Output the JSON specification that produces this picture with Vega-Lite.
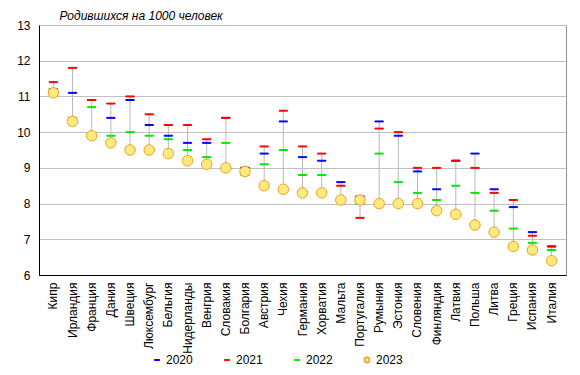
{
  "$schema": "https://vega.github.io/schema/vega-lite/v6.json",
  "autosize": {"type": "none"},
  "width": 527,
  "height": 250,
  "padding": {"left": 39, "top": 25, "right": 14, "bottom": 100},
  "config": {
    "view": {"stroke": "#909090", "strokeWidth": 1},
    "font": "Liberation Sans",
    "axis": {"labelFont": "Liberation Sans", "labelFontSize": 12, "labelColor": "#000000", "domainColor": "#000000", "domainWidth": 1, "gridColor": "#c0c0c0", "gridWidth": 1, "tickSize": 0},
    "legend": {"labelFont": "Liberation Sans", "labelFontSize": 12, "labelColor": "#000000", "symbolSize": 28}
  },
  "data": {"values": [
    {"country": "Кипр", "year": "2020", "value": 11.2},
    {"country": "Ирландия", "year": "2020", "value": 11.1},
    {"country": "Франция", "year": "2020", "value": 10.9},
    {"country": "Дания", "year": "2020", "value": 10.4},
    {"country": "Швеция", "year": "2020", "value": 10.9},
    {"country": "Люксембург", "year": "2020", "value": 10.2},
    {"country": "Бельгия", "year": "2020", "value": 9.9},
    {"country": "Нидерланды", "year": "2020", "value": 9.7},
    {"country": "Венгрия", "year": "2020", "value": 9.7},
    {"country": "Словакия", "year": "2020", "value": 10.4},
    {"country": "Болгария", "year": "2020", "value": 9.0},
    {"country": "Австрия", "year": "2020", "value": 9.4},
    {"country": "Чехия", "year": "2020", "value": 10.3},
    {"country": "Германия", "year": "2020", "value": 9.3},
    {"country": "Хорватия", "year": "2020", "value": 9.2},
    {"country": "Мальта", "year": "2020", "value": 8.6},
    {"country": "Португалия", "year": "2020", "value": 8.2},
    {"country": "Румыния", "year": "2020", "value": 10.3},
    {"country": "Эстония", "year": "2020", "value": 9.9},
    {"country": "Словения", "year": "2020", "value": 8.9},
    {"country": "Финляндия", "year": "2020", "value": 8.4},
    {"country": "Латвия", "year": "2020", "value": 9.2},
    {"country": "Польша", "year": "2020", "value": 9.4},
    {"country": "Литва", "year": "2020", "value": 8.4},
    {"country": "Греция", "year": "2020", "value": 7.9},
    {"country": "Испания", "year": "2020", "value": 7.2},
    {"country": "Италия", "year": "2020", "value": 6.8},

    {"country": "Кипр", "year": "2021", "value": 11.4},
    {"country": "Ирландия", "year": "2021", "value": 11.8},
    {"country": "Франция", "year": "2021", "value": 10.9},
    {"country": "Дания", "year": "2021", "value": 10.8},
    {"country": "Швеция", "year": "2021", "value": 11.0},
    {"country": "Люксембург", "year": "2021", "value": 10.5},
    {"country": "Бельгия", "year": "2021", "value": 10.2},
    {"country": "Нидерланды", "year": "2021", "value": 10.2},
    {"country": "Венгрия", "year": "2021", "value": 9.8},
    {"country": "Словакия", "year": "2021", "value": 10.4},
    {"country": "Болгария", "year": "2021", "value": 9.0},
    {"country": "Австрия", "year": "2021", "value": 9.6},
    {"country": "Чехия", "year": "2021", "value": 10.6},
    {"country": "Германия", "year": "2021", "value": 9.6},
    {"country": "Хорватия", "year": "2021", "value": 9.4},
    {"country": "Мальта", "year": "2021", "value": 8.5},
    {"country": "Португалия", "year": "2021", "value": 7.6},
    {"country": "Румыния", "year": "2021", "value": 10.1},
    {"country": "Эстония", "year": "2021", "value": 10.0},
    {"country": "Словения", "year": "2021", "value": 9.0},
    {"country": "Финляндия", "year": "2021", "value": 9.0},
    {"country": "Латвия", "year": "2021", "value": 9.2},
    {"country": "Польша", "year": "2021", "value": 9.0},
    {"country": "Литва", "year": "2021", "value": 8.3},
    {"country": "Греция", "year": "2021", "value": 8.1},
    {"country": "Испания", "year": "2021", "value": 7.1},
    {"country": "Италия", "year": "2021", "value": 6.8},

    {"country": "Кипр", "year": "2022", "value": 11.2},
    {"country": "Ирландия", "year": "2022", "value": 10.4},
    {"country": "Франция", "year": "2022", "value": 10.7},
    {"country": "Дания", "year": "2022", "value": 9.9},
    {"country": "Швеция", "year": "2022", "value": 10.0},
    {"country": "Люксембург", "year": "2022", "value": 9.9},
    {"country": "Бельгия", "year": "2022", "value": 9.8},
    {"country": "Нидерланды", "year": "2022", "value": 9.5},
    {"country": "Венгрия", "year": "2022", "value": 9.3},
    {"country": "Словакия", "year": "2022", "value": 9.7},
    {"country": "Болгария", "year": "2022", "value": 8.8},
    {"country": "Австрия", "year": "2022", "value": 9.1},
    {"country": "Чехия", "year": "2022", "value": 9.5},
    {"country": "Германия", "year": "2022", "value": 8.8},
    {"country": "Хорватия", "year": "2022", "value": 8.8},
    {"country": "Мальта", "year": "2022", "value": 8.1},
    {"country": "Португалия", "year": "2022", "value": 8.0},
    {"country": "Румыния", "year": "2022", "value": 9.4},
    {"country": "Эстония", "year": "2022", "value": 8.6},
    {"country": "Словения", "year": "2022", "value": 8.3},
    {"country": "Финляндия", "year": "2022", "value": 8.1},
    {"country": "Латвия", "year": "2022", "value": 8.5},
    {"country": "Польша", "year": "2022", "value": 8.3},
    {"country": "Литва", "year": "2022", "value": 7.8},
    {"country": "Греция", "year": "2022", "value": 7.3},
    {"country": "Испания", "year": "2022", "value": 6.9},
    {"country": "Италия", "year": "2022", "value": 6.7},

    {"country": "Кипр", "year": "2023", "value": 11.1},
    {"country": "Ирландия", "year": "2023", "value": 10.3},
    {"country": "Франция", "year": "2023", "value": 9.9},
    {"country": "Дания", "year": "2023", "value": 9.7},
    {"country": "Швеция", "year": "2023", "value": 9.5},
    {"country": "Люксембург", "year": "2023", "value": 9.5},
    {"country": "Бельгия", "year": "2023", "value": 9.4},
    {"country": "Нидерланды", "year": "2023", "value": 9.2},
    {"country": "Венгрия", "year": "2023", "value": 9.1},
    {"country": "Словакия", "year": "2023", "value": 9.0},
    {"country": "Болгария", "year": "2023", "value": 8.9},
    {"country": "Австрия", "year": "2023", "value": 8.5},
    {"country": "Чехия", "year": "2023", "value": 8.4},
    {"country": "Германия", "year": "2023", "value": 8.3},
    {"country": "Хорватия", "year": "2023", "value": 8.3},
    {"country": "Мальта", "year": "2023", "value": 8.1},
    {"country": "Португалия", "year": "2023", "value": 8.1},
    {"country": "Румыния", "year": "2023", "value": 8.0},
    {"country": "Эстония", "year": "2023", "value": 8.0},
    {"country": "Словения", "year": "2023", "value": 8.0},
    {"country": "Финляндия", "year": "2023", "value": 7.8},
    {"country": "Латвия", "year": "2023", "value": 7.7},
    {"country": "Польша", "year": "2023", "value": 7.4},
    {"country": "Литва", "year": "2023", "value": 7.2},
    {"country": "Греция", "year": "2023", "value": 6.8},
    {"country": "Испания", "year": "2023", "value": 6.7},
    {"country": "Италия", "year": "2023", "value": 6.4}
  ]},
  "encoding": {
    "x": {"field": "country", "type": "nominal", "sort": null,
      "scale": {"padding": 0.5},
      "axis": {"title": null, "labelAngle": -90, "labelPadding": 7, "grid": false, "labelAlign": "right", "labelBaseline": "middle"}}
  },
  "layer": [
    {
      "mark": {"type": "rule", "color": "#b8b8b8", "strokeWidth": 1},
      "encoding": {
        "y": {"aggregate": "min", "field": "value", "type": "quantitative",
          "scale": {"domain": [6, 13], "nice": false, "zero": false},
          "axis": {"values": [6, 7, 8, 9, 10, 11, 12, 13], "labelOverlap": false, "labelPadding": 9, "grid": true,
            "title": "Родившихся на 1000 человек", "titleAngle": 0, "titleAlign": "left", "titleBaseline": "alphabetic",
            "titleX": 20, "titleY": -6, "titleFont": "Liberation Sans", "titleFontSize": 12, "titleFontStyle": "italic", "titleFontWeight": "normal", "titleColor": "#000000"}},
        "y2": {"aggregate": "max", "field": "value"}
      }
    },
    {
      "mark": {"type": "point", "filled": true, "strokeWidth": 1, "opacity": 1},
      "encoding": {
        "y": {"field": "value", "type": "quantitative",
          "axis": {"values": [6, 7, 8, 9, 10, 11, 12, 13], "labelOverlap": false, "labelPadding": 9, "grid": true,
            "title": "Родившихся на 1000 человек", "titleAngle": 0, "titleAlign": "left", "titleBaseline": "alphabetic",
            "titleX": 20, "titleY": -6, "titleFont": "Liberation Sans", "titleFontSize": 12, "titleFontStyle": "italic", "titleFontWeight": "normal", "titleColor": "#000000"}},
        "size": {"field": "country", "type": "nominal",
          "scale": {"range": [110, 110]},
          "legend": null},
        "shape": {"field": "year", "type": "nominal",
          "scale": {"domain": ["2020", "2021", "2022", "2023"], "range": ["M-0.8,-0.09H0.8V0.09H-0.8Z", "M-0.8,-0.09H0.8V0.09H-0.8Z", "M-0.8,-0.09H0.8V0.09H-0.8Z", "circle"]},
          "legend": {"title": null, "orient": "none", "legendX": 112, "legendY": 329, "direction": "horizontal", "columnPadding": 28, "labelOffset": 3}},
        "fill": {"field": "year", "type": "nominal",
          "scale": {"domain": ["2020", "2021", "2022", "2023"], "range": ["#0000ff", "#ff0000", "#00e600", "#ffea80"]},
          "legend": {"title": null, "orient": "none", "legendX": 112, "legendY": 329, "direction": "horizontal", "columnPadding": 28, "labelOffset": 3}},
        "stroke": {"field": "year", "type": "nominal",
          "scale": {"domain": ["2020", "2021", "2022", "2023"], "range": ["#0000ff", "#ff0000", "#00e600", "#f0a020"]},
          "legend": {"title": null, "orient": "none", "legendX": 112, "legendY": 329, "direction": "horizontal", "columnPadding": 28, "labelOffset": 3}}
      }
    }
  ]
}
